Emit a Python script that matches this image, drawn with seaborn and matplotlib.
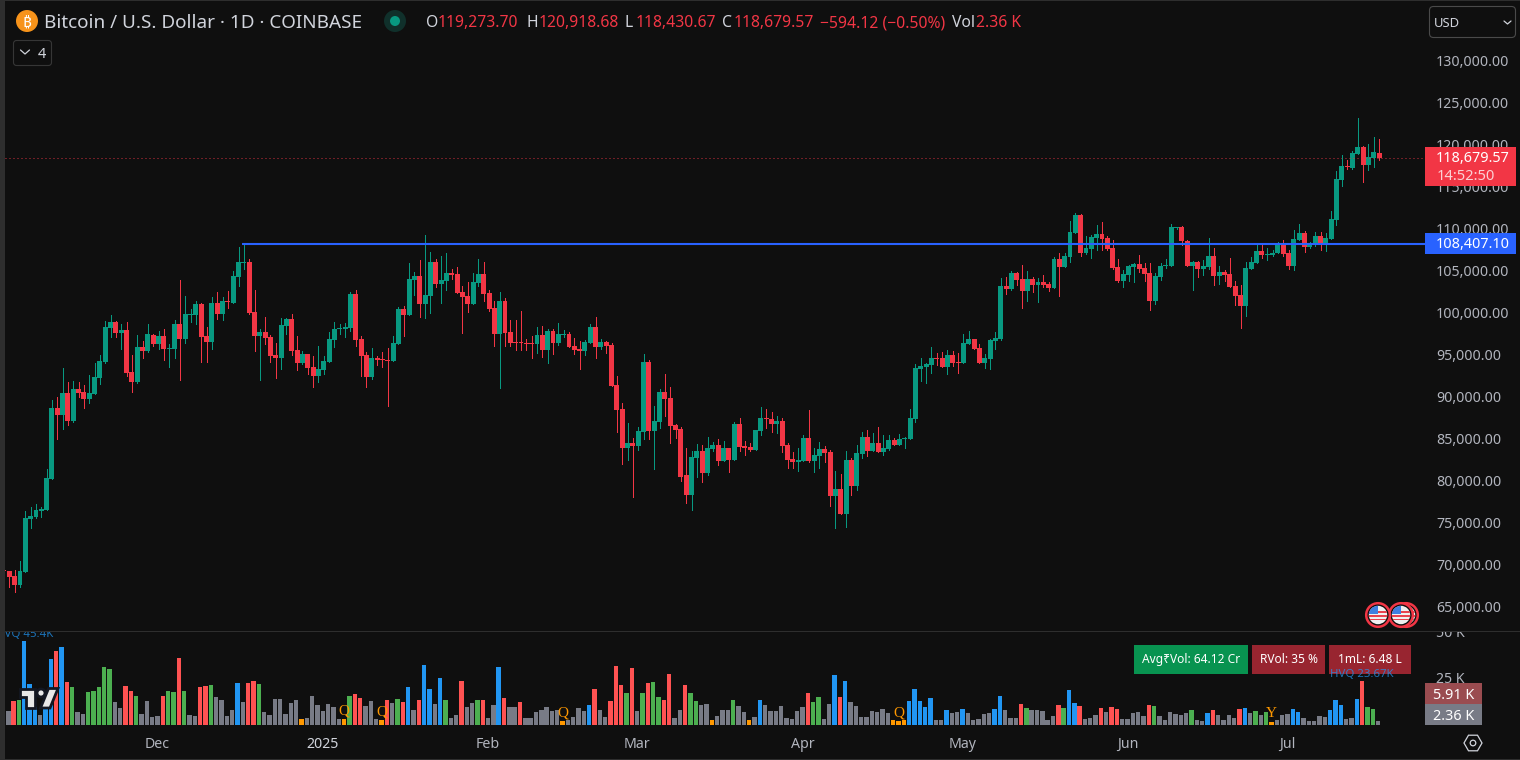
import numpy as np
import pandas as pd
import matplotlib
matplotlib.use("Agg")
import matplotlib.pyplot as plt
import seaborn as sns
from matplotlib.patches import Circle, FancyBboxPatch, Polygon, Rectangle, RegularPolygon
from matplotlib.transforms import ScaledTranslation

# ── Daily candles ─────────────────────────────────────────────────────────────
opens = [69530,
    69410, 68810, 67740, 69290, 75600, 75840, 76550, 76670, 80360,
    88810, 87980, 90600, 87260, 91070, 90720, 89880, 90480, 92380, 94290,
    98330, 99050, 97740, 98100, 93100, 91900, 96070, 95600, 97500, 96430,
    97380, 95830, 95830, 98810, 97020, 99880, 99880, 101190, 97380, 96670,
    101310, 100000, 101550, 101310, 104400, 106070, 106190, 100240, 97380, 97860,
    97260, 95120, 94760, 98570, 99400, 95710, 94170, 95240, 93690, 92620,
    93330, 94290, 96900, 98210, 98210, 98330, 102380, 97020, 95120, 92500,
    94760, 94640, 94520, 94400, 96430, 100600, 99880, 104050, 104520, 101190,
    102140, 106190, 103570, 103930, 104880, 104760, 102620, 102140, 101190, 103690,
    104760, 102500, 100720, 97620, 101550, 97860, 96670, 96670, 96550, 96550,
    96430, 97500, 95720, 97980, 96550, 97500, 97620, 96190, 95830, 95600,
    96550, 98450, 96070, 96670, 96310, 91550, 88690, 84050, 84640, 84290,
    85950, 94290, 86070, 87140, 90720, 90000, 86790, 86310, 80840, 78450,
    82860, 83690, 81070, 83930, 84410, 82500, 84050, 82620, 86900, 84290,
    84170, 83810, 86070, 87620, 87500, 86900, 87260, 84410, 82740, 82380,
    82500, 85240, 82500, 83100, 83930, 83570, 78330, 79170, 76190, 82620,
    79530, 83330, 85360, 83690, 84640, 83570, 83930, 85000, 84410, 85120,
    85120, 87500, 93450, 93690, 93930, 94760, 94760, 93690, 95120, 94290,
    94170, 96430, 97020, 95950, 94170, 94640, 96790, 97020, 103330, 102980,
    104880, 104170, 102740, 104170, 103450, 103810, 103570, 103100, 106550, 105600,
    106790, 109640, 111790, 107260, 107740, 109050, 109520, 109050, 107860, 105600,
    103930, 104640, 105600, 105950, 105480, 104880, 101550, 104410, 105720, 105720,
    110240, 110360, 108690, 105720, 106190, 105360, 105600, 106900, 104520, 105000,
    104760, 103330, 102260, 100950, 105360, 106070, 107500, 107030, 107030, 107260,
    108450, 107260, 105720, 108810, 109640, 107980, 108220, 109290, 108220, 108930,
    111190, 115950, 117620, 117380, 119050, 119880, 117740, 118570, 119273.70]

closes = [69400,
    68730, 67740, 69410, 75720, 75950, 76670, 76790, 80480, 88810,
    87980, 90600, 87260, 91070, 90600, 89880, 90600, 92500, 94400, 98450,
    99050, 97740, 98100, 92980, 91900, 96070, 95600, 97620, 96430, 97380,
    95830, 95950, 98810, 97020, 100000, 100000, 101190, 97260, 96670, 101310,
    100000, 101550, 101430, 104520, 106190, 106190, 100120, 97380, 97860, 97140,
    95000, 94760, 98690, 99400, 95600, 94170, 95240, 93570, 92620, 93450,
    94400, 97020, 98210, 98330, 98450, 102380, 96900, 95000, 92500, 94760,
    94520, 94520, 94400, 96550, 100600, 99880, 104170, 104520, 101190, 102260,
    106190, 103570, 104050, 104880, 104640, 102500, 102020, 101190, 103810, 104760,
    102380, 100600, 97620, 101550, 97740, 96550, 96550, 96550, 96430, 96430,
    97500, 95720, 97980, 96550, 97620, 97620, 96070, 95720, 95600, 96670,
    98450, 96070, 96670, 96190, 91430, 88570, 84050, 84640, 84290, 86070,
    94290, 86070, 87260, 90720, 89880, 86670, 86190, 80600, 78450, 82980,
    83690, 81070, 84050, 84410, 82500, 84050, 82620, 86900, 84170, 84050,
    83810, 86190, 87620, 87500, 86900, 87260, 84290, 82620, 82380, 82620,
    85240, 82500, 83210, 83930, 83450, 78330, 79170, 76190, 82620, 79530,
    83450, 85360, 83690, 84640, 83570, 84050, 85000, 84410, 85120, 85240,
    87620, 93570, 93810, 94050, 94760, 94640, 93690, 95120, 94170, 94170,
    96550, 97020, 95830, 94170, 94760, 96900, 97140, 103330, 102980, 104880,
    104050, 102740, 104170, 103450, 103810, 103450, 103100, 106550, 105600, 106900,
    109760, 111790, 107260, 107860, 109170, 109520, 108930, 107740, 105480, 103930,
    104760, 105720, 105950, 105360, 104760, 101550, 104520, 105720, 105830, 110360,
    110360, 108690, 105720, 106190, 105360, 105720, 106900, 104520, 105000, 104640,
    103220, 102140, 100950, 105480, 106190, 107500, 107030, 107140, 107260, 108450,
    107140, 105720, 108930, 109640, 107980, 108330, 109290, 108220, 109050, 111310,
    116070, 117620, 117500, 119170, 119880, 117740, 118690, 119290, 118679.57]

highs = [69600,
    69410, 69530, 70600, 76550, 77030, 77380, 77030, 81550, 89760,
    90120, 93570, 91900, 92020, 91900, 91550, 92740, 94170, 95120, 99170,
    99880, 99170, 98810, 99050, 95120, 97500, 96790, 98810, 97620, 97980,
    98210, 96430, 99290, 104050, 102140, 100600, 101550, 101310, 98450, 102020,
    102620, 102020, 102740, 105120, 107980, 108407.10, 106550, 102860, 98210, 99640,
    97500, 96550, 99520, 99520, 100000, 97380, 95600, 95240, 95000, 96190,
    95000, 97860, 99050, 98810, 98930, 102620, 102860, 97380, 95480, 95950,
    95000, 95480, 95950, 97380, 100830, 100950, 106070, 105000, 106430, 109400,
    107380, 106550, 106900, 107260, 105360, 105600, 103330, 103810, 104880, 106550,
    106190, 102860, 101550, 102620, 101900, 99290, 99290, 100360, 97020, 97380,
    98450, 98570, 98210, 98210, 98930, 98100, 97860, 97140, 96790, 96910,
    98810, 99640, 97020, 96790, 96550, 92620, 89410, 87030, 85240, 86550,
    95240, 94520, 89050, 91070, 92860, 91310, 86910, 86550, 84050, 83690,
    84520, 84410, 85360, 84760, 85120, 84880, 84050, 87140, 87620, 84880,
    84640, 86190, 88930, 88690, 88330, 87860, 87620, 84640, 83570, 84050,
    85600, 88570, 84050, 84760, 84290, 83810, 81310, 80950, 83690, 82860,
    84410, 85950, 86190, 85830, 86550, 85600, 85600, 85240, 85710, 85360,
    88690, 94050, 94760, 94170, 96070, 95360, 95480, 95710, 95600, 95360,
    97620, 97980, 97020, 96430, 95240, 97020, 97860, 104290, 104400, 105120,
    105000, 105830, 105120, 104400, 104290, 104640, 103810, 106790, 107260, 107260,
    111070, 112020, 111900, 109290, 109400, 110600, 110950, 109290, 108810, 106550,
    105240, 105830, 106070, 107030, 106070, 106070, 104880, 106070, 106550, 110720,
    110360, 110480, 108810, 106310, 106310, 106430, 109050, 107860, 105720, 105240,
    106670, 103930, 103450, 106190, 106790, 108330, 108450, 107860, 107620, 108570,
    108810, 107620, 110000, 110720, 109880, 108570, 109760, 109760, 109640, 112260,
    117020, 118930, 118330, 119400, 123330, 120000, 120240, 121070, 120918.68]

lows = [69000,
    67540, 66950, 67540, 69290, 74530, 75720, 75840, 76670, 80360,
    85120, 86310, 86790, 87140, 90120, 88810, 89410, 90480, 91670, 94170,
    97260, 97260, 95830, 92620, 90720, 91790, 94760, 95480, 96190, 95830,
    94520, 93690, 94760, 92140, 96550, 99050, 98810, 94290, 94290, 95830,
    99400, 99290, 100710, 101310, 103330, 105360, 100000, 95600, 92140, 96430,
    94290, 92380, 93450, 97620, 95120, 93330, 94050, 92860, 91310, 91900,
    92860, 94290, 96070, 97620, 97260, 97980, 96190, 92620, 91310, 92260,
    93930, 93690, 89050, 94400, 96430, 97380, 99880, 102260, 99640, 99520,
    100120, 103210, 101310, 102860, 104170, 102500, 97740, 100240, 101190, 103330,
    101550, 100360, 96190, 91190, 96190, 96190, 95720, 95720, 95720, 94760,
    95360, 94880, 94170, 95240, 96310, 97260, 96070, 95240, 93450, 95120,
    96550, 94760, 95830, 95360, 91430, 85950, 82140, 82620, 78220, 83810,
    85120, 85120, 81550, 86430, 87860, 84640, 85240, 80120, 77500, 76670,
    80600, 80000, 80830, 83690, 82020, 82500, 81190, 82620, 83690, 83210,
    83690, 83810, 85600, 86430, 85950, 85830, 83570, 81670, 81670, 81310,
    82500, 82380, 81190, 81670, 82380, 77140, 74530, 76190, 74640, 78450,
    79050, 82860, 83100, 83690, 83570, 83210, 83810, 84410, 84410, 84050,
    85120, 87140, 92020, 91790, 92980, 93930, 93690, 92860, 93810, 92980,
    94170, 96430, 95830, 94170, 93570, 93450, 95830, 96900, 102380, 102860,
    103450, 100720, 101550, 102620, 101430, 103210, 102740, 103100, 102140, 105600,
    106190, 109640, 106900, 107140, 106670, 107620, 107620, 107620, 105360, 103810,
    103220, 103930, 103810, 105000, 103930, 100480, 101190, 104050, 105480, 105720,
    110120, 108220, 105720, 102860, 104410, 104640, 105360, 103450, 103570, 103930,
    103220, 101070, 98330, 99760, 105360, 106070, 106670, 106430, 106900, 107260,
    106900, 105360, 105240, 108810, 107380, 107860, 108100, 107620, 107500, 108930,
    110600, 115240, 117260, 117260, 119050, 115720, 117140, 117500, 118430.67]

# ── Volume in thousands, one per candle after the first ───────────────────────
volumes = [
    7.6, 13.0, 13.5, 45.4, 22.1, 9.9, 5.4, 9.0, 35.6, 40.0,
    42.1, 23.2, 20.5, 7.0, 5.9, 17.8, 18.4, 20.5, 31.3, 30.2,
    12.4, 9.2, 21.1, 18.4, 15.7, 5.9, 13.0, 4.3, 4.9, 15.7,
    18.4, 17.8, 36.2, 18.4, 5.4, 4.9, 20.5, 21.1, 21.6, 15.1,
    13.5, 4.9, 8.1, 22.7, 12.4, 22.7, 23.8, 22.1, 7.0, 5.4,
    14.0, 14.0, 5.9, 11.9, 13.5, 3.2, 3.8, 15.7, 10.8, 7.6,
    11.3, 9.7, 3.2, 3.2, 15.7, 16.7, 14.6, 10.3, 13.0, 3.2,
    2.7, 13.5, 11.9, 14.0,
    12.4, 20.5, 8.1, 13.5, 32.4, 19.4, 11.3, 25.4, 13.5, 3.8,
    5.4, 23.8, 9.7, 11.9, 13.5, 13.5, 3.8, 10.8, 31.3, 14.6,
    9.7, 9.7, 12.4, 3.8, 3.8, 7.0, 8.1, 9.7, 7.6, 8.1,
    2.2, 2.7, 4.3, 9.2, 7.6, 10.8, 19.4, 8.1, 4.3, 13.0,
    31.9, 21.6, 17.3, 30.8, 7.6, 17.3, 22.7, 23.2, 15.1, 13.5,
    27.5, 3.8, 8.1, 21.6, 17.3, 13.0, 10.8, 11.3, 2.7, 4.9,
    8.1, 8.1, 13.5, 10.3, 7.0, 2.7, 4.3, 13.5, 10.8, 7.6,
    7.6, 10.3, 3.8, 3.2, 7.6,
    9.7, 17.3, 12.4, 15.1, 3.2, 11.3, 27.0, 15.1, 23.8, 12.4,
    10.3, 4.3, 4.3, 7.6, 7.0, 8.6, 6.5, 2.7, 2.2, 2.7,
    13.0, 19.4, 13.0, 9.7, 14.6, 2.7, 2.7, 8.1, 6.5, 7.0,
    8.6, 6.5, 2.7, 3.2, 5.9, 6.5, 8.6, 15.7, 8.1, 3.8,
    3.8, 11.3, 9.2, 8.1, 8.1, 7.6, 2.7, 4.9, 10.8, 9.2,
    18.9, 11.9, 10.3, 3.2, 3.8, 5.4, 9.2, 7.0, 9.7, 8.6,
    3.2, 3.2, 6.5, 7.0, 4.9, 10.8, 10.3, 4.9, 2.7, 7.0,
    5.9, 5.4, 6.5, 8.1, 2.7,
    2.2, 6.5, 8.1, 5.4, 2.7, 5.4, 3.8, 8.6, 9.2, 6.5,
    7.6, 5.4, 7.0, 1.6, 2.7, 5.4, 5.9, 8.6, 7.0, 3.8,
    2.2, 2.2, 4.9, 4.3, 8.1, 13.5, 10.8, 3.2, 3.8, 14.0,
    23.67, 9.7, 8.6, 2.36]

# x grey, r red, g green, b blue, o orange
volume_kinds = list(
    "xrgbbbxbbr" "brgxxggggg" "xxrrgxxxxr" "ggrgxxrrgx" "xxxbxrrgxx" "xxxxxoxxxx" "xxxogrrxxx" "orxg"
    "rbxrbbxbgx" "xrxxgrxxbr" "xxrxxxxxxx" "oxxxxbrxxr" "rrgrxgrggr" "rxxrggxxox" "xxgxxoxbxx" "xxxxx"
    "xrggxxbrbx" "xxxxxxxooo" "bbbbbxxbxx" "bxxxxxbbxx" "xrgxxxxxrg" "bbrxxxrxrr" "xxxxxrgxxx" "xxxgx"
    "xbrxxxxrbx" "gxgoxxxbbx" "xxxxbbbxxb" "rggx")

price_ticks = list(range(65000, 130001, 5000))
volume_ticks = [25, 50]
earnings_marks = [(64, "Q"), (71, "Q"), (105, "Q"), (168, "Q"), (238, "Y")]
volume_peaks = [(4, "HVQ 45.4K"), (255, "HVQ 23.67K")]
resistance = 108407.10
resistance_start = 45

BG = "#0f0f0f"
EDGE = "#2e2e2e"
UP = "#089981"
DOWN = "#f23645"
AXIS_TEXT = "#b2b5be"
TITLE_TEXT = "#d1d4dc"
VOLUME_COLORS = {"x": "#787b86", "r": "#ff5252", "g": "#4caf50", "b": "#2196f3", "o": "#ff9800"}

W, H = 1520, 760
STEP = 5.33  # pixels per candle
X0 = 4.0  # pixel of candle 0

sns.set_theme(style="dark", rc={
    "axes.facecolor": BG, "figure.facecolor": BG, "axes.grid": False,
    "xtick.bottom": False, "ytick.left": False,
})
plt.rcParams["font.family"] = ["Noto Sans", "DejaVu Sans"]

df = pd.DataFrame({"open": opens, "high": highs, "low": lows, "close": closes})
df["date"] = pd.date_range("2024-11-02", periods=len(df))
df["up"] = df["close"] >= df["open"]
vol_df = pd.DataFrame({"idx": np.arange(1, len(df)), "vol": volumes, "kind": volume_kinds})


def px_rect(left, top, right, bottom):
    return [left / W, 1 - bottom / H, (right - left) / W, (bottom - top) / H]


fig = plt.figure(figsize=(W / 100, H / 100), dpi=100)
ax = fig.add_axes(px_rect(5, 1, 1425, 631))
ax_vol = fig.add_axes(px_rect(5, 632, 1425, 725))
ov = fig.add_axes([0, 0, 1, 1], zorder=10)
ov.set_xlim(0, W)
ov.set_ylim(H, 0)
ov.axis("off")
ov.patch.set_alpha(0)


def nudge_up(labels, pixels):
    # tick labels sit a little above their tick in the reference
    for lbl in labels:
        lbl.set_transform(lbl.get_transform() + ScaledTranslation(0, pixels / 100, fig.dpi_scale_trans))


# ── Candles ───────────────────────────────────────────────────────────────────
colors = np.where(df["up"], UP, DOWN)
ax.vlines(df.index, df["low"], df["high"], colors=colors, linewidth=0.72, antialiased=False)
ax.bar(df.index, (df["close"] - df["open"]).abs(), bottom=df[["open", "close"]].min(axis=1),
       width=0.93, color=colors, linewidth=0, antialiased=False)
ax.hlines(resistance, resistance_start - 0.35, 400, color="#2962ff", linewidth=1.5, zorder=3)
ax.axhline(closes[-1], color=DOWN, alpha=0.85, linewidth=0.72, linestyle=(0, (1, 3)), zorder=1)

ax.set_xlim((5 - X0) / STEP, (1425 - X0) / STEP)
y_scale = 0.0084  # pixels per dollar
ax.set_ylim(closes[-1] - (631 - 157.5) / y_scale, closes[-1] + (157.5 - 1) / y_scale)
ax.yaxis.tick_right()
ax.set_yticks(price_ticks)
ax.set_yticklabels([f"{p:,.2f}" for p in price_ticks], fontsize=10.2, color=AXIS_TEXT, va="center_baseline")
ax.tick_params(axis="y", length=0, pad=8)
nudge_up(ax.get_yticklabels(), 2)
ax.set_xticks([])
sns.despine(ax=ax, left=True, bottom=True)

# ── Volume ────────────────────────────────────────────────────────────────────
sns.barplot(data=vol_df, x="idx", y="vol", hue="kind", palette=VOLUME_COLORS, native_scale=True,
            dodge=False, width=0.82, saturation=1, linewidth=0, legend=False, ax=ax_vol)
for patch in ax_vol.patches:
    patch.set_antialiased(False)
ax_vol.set_xlim((5 - X0) / STEP + 0.19, (1425 - X0) / STEP + 0.19)
ax_vol.set_ylim(0, 93 / 1.85)
ax_vol.set_xlabel("")
ax_vol.set_ylabel("")
ax_vol.yaxis.tick_right()
ax_vol.set_yticks(volume_ticks)
ax_vol.set_yticklabels([f"{v} K" for v in volume_ticks], fontsize=10.2, color=AXIS_TEXT, va="center_baseline")
ax_vol.tick_params(axis="y", length=0, pad=8)
nudge_up(ax_vol.get_yticklabels(), 1)
# the 50 K label is cut by the pane border
for lbl in ax_vol.get_yticklabels():
    lbl.set_clip_path(Rectangle((1425, 632), 95, 100, transform=ov.transData))

month_starts = df.index[df["date"].dt.day == 1]
ax_vol.set_xticks(month_starts)
ax_vol.set_xticklabels(["2025" if df["date"][i].month == 1 else df["date"][i].strftime("%b")
                        for i in month_starts], fontsize=10.2, color=AXIS_TEXT)
ax_vol.tick_params(axis="x", length=0, pad=8.7)
for lbl in ax_vol.get_xticklabels():
    if lbl.get_text() == "2025":
        lbl.set_fontweight("bold")
        lbl.set_color(TITLE_TEXT)
sns.despine(ax=ax_vol, left=True, bottom=True)

for idx, mark in earnings_marks:
    ax_vol.text(idx, vol_df["vol"][idx - 1] + 1.0, mark, color="#ff9800", fontsize=11,
                family="Liberation Serif", ha="center", va="bottom", zorder=4)

# stat boxes sit in the volume pane, the HVQ text runs over them
for left, right, color, label in [(1134, 1248, "#089350", "Avg₹Vol: 64.12 Cr"),
                                  (1252, 1325, "#982530", "RVol: 35 %"),
                                  (1329, 1411, "#982530", "1mL: 6.48 L")]:
    ax_vol.add_patch(Rectangle((left, 645), right - left, 29, transform=ov.transData,
                               color=color, linewidth=0, zorder=3, clip_on=False))
    ax_vol.text((left + right) / 2, 659.5, label, transform=ov.transData, color="#ffffff",
                fontsize=8.6, fontweight="medium", ha="center", va="center", zorder=4)
for idx, label in volume_peaks:
    ax_vol.text(idx, vol_df["vol"][idx - 1] + 0.4, label, color="#2196f3", alpha=0.75, fontsize=8.2,
                ha="center", va="bottom", zorder=5, clip_on=True)

# ── Frame ─────────────────────────────────────────────────────────────────────
ov.add_patch(Rectangle((0, 0), 5, H, color=EDGE, linewidth=0))
ov.add_patch(Rectangle((0, 0), W, 1, color=EDGE, linewidth=0))
ov.add_patch(Rectangle((0, 759), W, 1, color=EDGE, linewidth=0))
ov.add_patch(Rectangle((5, 631), W - 5, 1, color=EDGE, linewidth=0))

# ── Header ────────────────────────────────────────────────────────────────────
ov.add_patch(Circle((27, 21), 11, color="#f7931a", linewidth=0))
ov.text(27, 21, "₿", color="white", fontsize=11, fontweight="bold", ha="center", va="center_baseline")
ov.text(44, 21, "Bitcoin / U.S. Dollar · 1D · COINBASE", color=TITLE_TEXT, fontsize=13.6,
        ha="left", va="center_baseline")
ov.add_patch(Circle((395, 21), 11, color="#10302b", linewidth=0))
ov.add_patch(Circle((395, 21), 5, color=UP, linewidth=0))
for x, text, color in [(426, "O", TITLE_TEXT), (438, "119,273.70", DOWN),
                       (526, "H", TITLE_TEXT), (539, "120,918.68", DOWN),
                       (625, "L", TITLE_TEXT), (636, "118,430.67", DOWN),
                       (722, "C", TITLE_TEXT), (734, "118,679.57", DOWN),
                       (820, "−594.12 (−0.50%)", DOWN),
                       (952, "Vol", TITLE_TEXT), (976, "2.36 K", DOWN)]:
    ov.text(x, 21, text, color=color, fontsize=11.3, ha="left", va="center_baseline")

ov.add_patch(FancyBboxPatch((13.5, 40.5), 38, 25, boxstyle="round,pad=0,rounding_size=3",
                            fill=False, edgecolor="#363636", linewidth=0.8))
ov.plot([20.5, 25, 29.5], [50, 54, 50], color=TITLE_TEXT, linewidth=0.9)
ov.text(41.5, 52.5, "4", color=TITLE_TEXT, fontsize=10.5, ha="center", va="center_baseline")

ov.add_patch(FancyBboxPatch((1429.5, 6.5), 86, 31, boxstyle="round,pad=0,rounding_size=4",
                            fill=False, edgecolor="#4a4a4a", linewidth=0.8))
ov.text(1434, 22, "USD", color=TITLE_TEXT, fontsize=9.4, ha="left", va="center_baseline")
ov.plot([1504, 1507.5, 1511], [21, 24, 21], color=TITLE_TEXT, linewidth=0.9)

# ── Price tags ────────────────────────────────────────────────────────────────
ov.add_patch(Rectangle((1425, 147), 91, 39, color=DOWN, linewidth=0))
ov.text(1473, 157, f"{closes[-1]:,.2f}", color="white", fontsize=10.4, fontweight="medium",
        ha="center", va="center_baseline")
ov.text(1437, 175, "14:52:50", color="#fbd0d4", fontsize=10.6, ha="left", va="center_baseline")
ov.add_patch(Rectangle((1425, 233), 91, 21, color="#2962ff", linewidth=0))
ov.text(1473, 243, f"{resistance:,.2f}", color="white", fontsize=10.4, fontweight="medium",
        ha="center", va="center_baseline")
ov.add_patch(Rectangle((1425, 683), 57, 21, color="#9a4c50", linewidth=0))
ov.text(1453.5, 693.5, "5.91 K", color="white", fontsize=10.4, fontweight="medium",
        ha="center", va="center_baseline")
ov.add_patch(Rectangle((1425, 704), 57, 21, color="#787b86", linewidth=0))
ov.text(1453.5, 714.5, "2.36 K", color="white", fontsize=10.4, fontweight="medium",
        ha="center", va="center_baseline")

# settings hexagon
ov.add_patch(RegularPolygon((1473, 743), 6, radius=9, orientation=np.pi / 2, fill=False,
                            edgecolor=TITLE_TEXT, linewidth=0.9))
ov.add_patch(Circle((1473, 743), 2.8, fill=False, edgecolor=TITLE_TEXT, linewidth=0.9))


# ── Flags and watermark ───────────────────────────────────────────────────────
def us_flag(cx, cy):
    ov.add_patch(Circle((cx, cy), 11.8, facecolor=BG, edgecolor=DOWN, linewidth=1.8))
    face = Circle((cx, cy), 9.2, color="#f0f0f0", linewidth=0)
    ov.add_patch(face)
    for k in range(3):
        stripe = Rectangle((cx - 10, cy - 3.6 + k * 3.6), 20, 1.8, color="#e8434f", linewidth=0)
        ov.add_patch(stripe)
        stripe.set_clip_path(face)
    canton = Rectangle((cx - 10, cy - 10), 10, 9, color="#3f7fe0", linewidth=0)
    ov.add_patch(canton)
    canton.set_clip_path(face)


us_flag(1406, 615)
us_flag(1401, 615)
us_flag(1378, 615)

logo = {"facecolor": "#e8e8e8", "edgecolor": "#131722", "linewidth": 2}
ov.add_patch(Polygon([(20, 688.5), (35, 688.5), (35, 708), (26, 708), (26, 697), (20, 697)], **logo))
ov.add_patch(Circle((41, 693), 4, **logo))
ov.add_patch(Polygon([(48.5, 688.5), (58, 688.5), (50, 708), (40.5, 708)], **logo))

fig.savefig("out.png", dpi=100)
plt.close(fig)
